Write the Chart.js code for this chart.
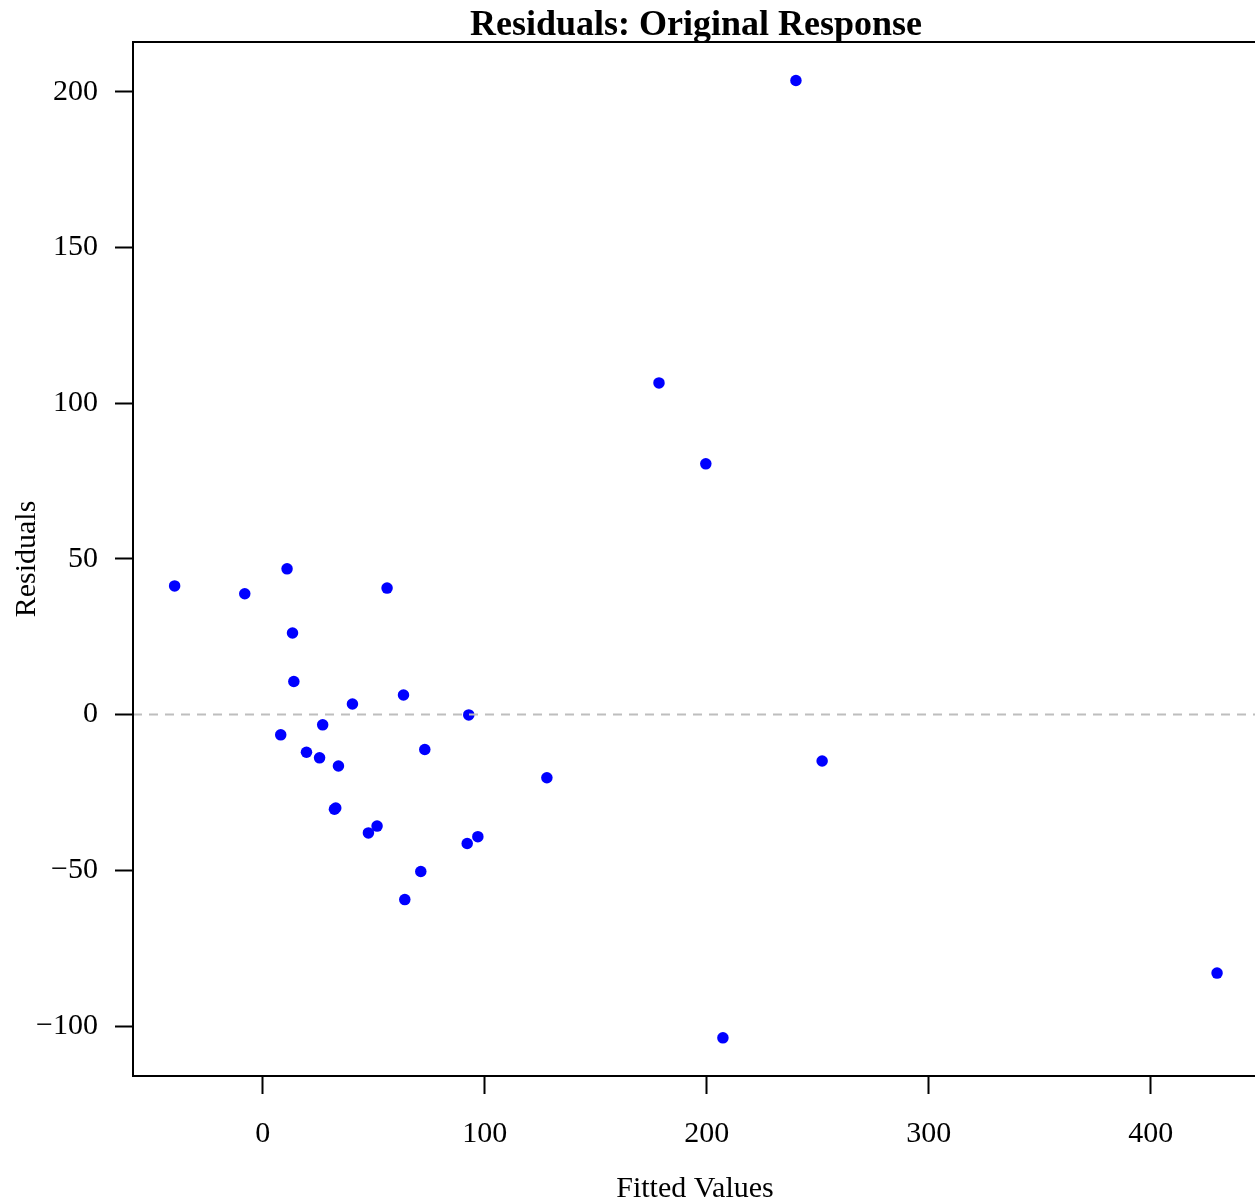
<!DOCTYPE html>
<html>
<head>
<meta charset="utf-8">
<script src="https://cdn.jsdelivr.net/npm/chart.js@4"></script>
<style>
  html, body { margin: 0; padding: 0; background: #fff; }
  canvas { display: block; }
</style>
</head>
<body>
<canvas id="residChart" width="1255" height="1202"></canvas>
<script>
// fitted values and residuals
const fittedValues = [-39.7, -8.1, 10.95, 13.4, 14.0, 8.1, 19.7, 25.6, 27.0, 34.1,
  32.3, 32.9, 40.4, 47.6, 51.5, 56.0, 63.4, 64.0, 71.2, 73.0,
  92.1, 92.8, 96.9, 128.0, 178.5, 199.6, 207.3, 240.2, 252.0, 429.9];
const residuals = [41.3, 38.8, 46.8, 26.2, 10.6, -6.5, -12.1, -13.9, -3.3, -16.5,
  -30.4, -30.0, 3.4, -38.0, -35.8, 40.6, 6.3, -59.4, -50.4, -11.2,
  -41.4, -0.1, -39.2, -20.3, 106.5, 80.5, -103.8, 203.6, -14.9, -83.0];

const xTicks = [0, 100, 200, 300, 400];
const yTicks = [-100, -50, 0, 50, 100, 150, 200];
const xRange = [-58.45, 447.0];
const yRange = [-116.05, 215.95];

const chartTitle = "Residuals: Original Response";
const xTitle = "Fitted Values";
const yTitle = "Residuals";

const serif = "'Liberation Serif', 'Times New Roman', serif";

function fmt(v) {
  return v < 0 ? "\u2212" + Math.abs(v) : String(v);
}

// box + titles, like base R graphics
const rPlotDecor = {
  id: "rPlotDecor",
  afterDraw(chart) {
    const { ctx, chartArea } = chart;
    ctx.save();
    ctx.strokeStyle = "#000";
    ctx.lineWidth = 2;
    ctx.strokeRect(chartArea.left, chartArea.top, chartArea.right - chartArea.left + 10, chartArea.bottom - chartArea.top);

    ctx.fillStyle = "#000";
    ctx.textAlign = "center";
    ctx.textBaseline = "alphabetic";
    ctx.font = "bold 36px " + serif;
    ctx.fillText(chartTitle, 696, 35);

    ctx.font = "30px " + serif;
    ctx.fillText(xTitle, 695, 1197);

    ctx.translate(35, (chartArea.top + chartArea.bottom) / 2);
    ctx.rotate(-Math.PI / 2);
    ctx.fillText(yTitle, 0, 0);
    ctx.restore();
  }
};

const points = fittedValues.map((x, i) => ({ x: x, y: residuals[i] }));

const config = {
  type: "scatter",
  data: {
    datasets: [
      {
        type: "line",
        label: "zero",
        data: [{ x: xRange[0], y: 0 }, { x: xRange[1], y: 0 }],
        borderColor: "#BEBEBE",
        borderWidth: 2,
        borderDash: [9, 7],
        pointRadius: 0,
        fill: false,
      },
      {
        label: "Residuals",
        data: points,
        backgroundColor: "#0000FF",
        borderWidth: 0,
        pointRadius: 5.75,
      },
    ],
  },
  options: {
    responsive: false,
    animation: false,
    devicePixelRatio: 1,
    layout: { autoPadding: false, padding: { top: 42, left: 0, right: 0, bottom: 0 } },
    plugins: {
      legend: { display: false },
      title: { display: false },
      tooltip: { enabled: false },
    },
    scales: {
      x: {
        type: "linear",
        min: xRange[0],
        max: xRange[1],
        afterBuildTicks: (s) => { s.ticks = xTicks.map(v => ({ value: v })); },
        afterFit: (s) => {
          s.height = 126;
          s.paddingLeft = 0;
          s.paddingRight = 0;
        },
        grid: { display: true, drawOnChartArea: false, drawTicks: true, tickLength: 18, tickWidth: 2, tickColor: "#000" },
        border: { display: true, color: "#000", width: 2 },
        ticks: {
          color: "#000",
          font: { family: serif, size: 30 },
          padding: 22,
          maxRotation: 0,
          callback: (v) => fmt(v),
        },
      },
      y: {
        type: "linear",
        min: yRange[0],
        max: yRange[1],
        afterBuildTicks: (s) => { s.ticks = yTicks.map(v => ({ value: v })); },
        afterFit: (s) => {
          s.width = 133;
          s.paddingTop = 0;
          s.paddingBottom = 0;
        },
        grid: { display: true, drawOnChartArea: false, drawTicks: true, tickLength: 18, tickWidth: 2, tickColor: "#000" },
        border: { display: true, color: "#000", width: 2 },
        ticks: {
          color: "#000",
          font: { family: serif, size: 30 },
          padding: 17,
          callback: (v) => fmt(v),
        },
      },
    },
  },
  plugins: [rPlotDecor],
};

const residChart = new Chart(document.getElementById("residChart"), config);
</script>
</body>
</html>
